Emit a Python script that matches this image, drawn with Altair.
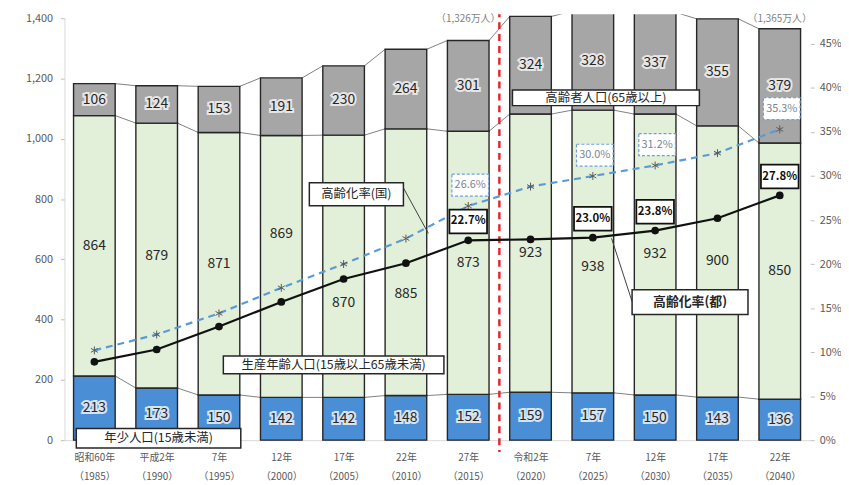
import altair as alt
import pandas as pd

FONT = "Noto Sans CJK JP"

# ---------------- data ----------------
era_labels = ["昭和60年", "平成2年", "7年", "12年", "17年", "22年", "27年",
              "令和2年", "7年", "12年", "17年", "22年"]
year_labels = ["（1985）", "（1990）", "（1995）", "（2000）", "（2005）", "（2010）",
               "（2015）", "（2020）", "（2025）", "（2030）", "（2035）", "（2040）"]
young = [213, 173, 150, 142, 142, 148, 152, 159, 157, 150, 143, 136]
working = [864, 879, 871, 869, 870, 885, 873, 923, 938, 932, 900, 850]
elderly = [106, 124, 153, 191, 230, 264, 301, 324, 328, 337, 355, 379]
tokyo_rate = [8.9, 10.3, 12.9, 15.7, 18.3, 20.1, 22.7, 22.8, 23.0, 23.8, 25.2, 27.8]
japan_rate = [10.2, 12.0, 14.4, 17.3, 20.0, 22.9, 26.6, 28.8, 30.0, 31.2, 32.6, 35.3]
tokyo_label_idx = [6, 8, 9, 11]
japan_label_idx = [6, 8, 9, 11]
total_label_idx = [6, 11]
# working-age labels moved off the lines (in 万人 units)
working_label_shift = {3: 108, 4: -122, 5: -105, 8: -53}

seg_names = ["年少人口", "生産年齢人口", "高齢者人口"]
seg_colors = ["#4a8fd6", "#e2efd9", "#a6a6a6"]

# annotation boxes (x in category index units, y in 万人)
notes = pd.DataFrame([
    {"text": "高齢者人口(65歳以上)", "x0": 6.71, "x1": 9.71, "y0": 1110, "y1": 1162, "bold": False},
    {"text": "高齢化率(国)", "x0": 3.45, "x1": 4.96, "y0": 778, "y1": 854, "bold": False},
    {"text": "生産年齢人口(15歳以上65歳未満)", "x0": 2.07, "x1": 5.61, "y0": 220, "y1": 279, "bold": False},
    {"text": "高齢化率(都)", "x0": 8.63, "x1": 10.49, "y0": 417, "y1": 499, "bold": True},
    {"text": "年少人口(15歳未満)", "x0": -0.29, "x1": 2.35, "y0": -26, "y1": 39, "bold": False},
])
notes["xc"] = (notes["x0"] + notes["x1"]) / 2
notes["yc"] = (notes["y0"] + notes["y1"]) / 2
leaders = pd.DataFrame([
    {"x0": 4.96, "y0": 837, "x1": 5.36, "y1": 686},
    {"x0": 8.30, "y0": 670, "x1": 8.63, "y1": 460},
])

# ---------------- tables ----------------
HW = 0.334
n = len(era_labels)
rows = []
for i in range(n):
    lo = 0
    for s, v in zip(seg_names, [young[i], working[i], elderly[i]]):
        mid = lo + v / 2
        if s == "生産年齢人口":
            mid += working_label_shift.get(i, 0)
        rows.append({"idx": i, "seg": s, "lo": lo, "hi": lo + v, "val": v, "mid": mid,
                     "x0": i - HW, "x1": i + HW})
        lo += v
bars_df = pd.DataFrame(rows)

levels = {
    "young": [young[i] for i in range(n)],
    "work": [young[i] + working[i] for i in range(n)],
    "total": [young[i] + working[i] + elderly[i] for i in range(n)],
}
ser = []
for k, L in levels.items():
    for i in range(n - 1):
        ser.append({"x0": i + HW, "x1": i + 1 - HW, "y0": L[i], "y1": L[i + 1]})
ser_df = pd.DataFrame(ser)

tot_df = pd.DataFrame([{"idx": i, "t": f"（{levels['total'][i]:,}万人）"} for i in total_label_idx])

rate_df = pd.DataFrame({
    "idx": list(range(n)),
    "tokyo": [v / 100 for v in tokyo_rate],
    "japan": [v / 100 for v in japan_rate],
})
tokyo_lab = pd.DataFrame([{"idx": i, "rate": tokyo_rate[i] / 100, "t": f"{tokyo_rate[i]:.1f}%"} for i in tokyo_label_idx])
japan_lab = pd.DataFrame([{"idx": i, "rate": japan_rate[i] / 100, "t": f"{japan_rate[i]:.1f}%"} for i in japan_label_idx])

# ---------------- scales / axes ----------------
W, H = 753, 426
xscale = alt.Scale(domain=[-0.48, 11.49], nice=False, zero=False)
yscale = alt.Scale(domain=[0, 1400], nice=False, zero=False)
rscale = alt.Scale(domain=[0, 0.4792], nice=False, zero=False)

label_expr = "[" + ",".join(f"['{a}','{b}']" for a, b in zip(era_labels, year_labels)) + "][datum.value]"
xaxis = alt.Axis(values=list(range(n)), labelExpr=label_expr, title=None, ticks=False, grid=False,
                 domainColor="#d9d9d9", labelColor="#595959", labelFont=FONT, labelFontSize=10,
                 labelPadding=13, labelLineHeight=19, labelFlush=False, labelOverlap=False)
yaxis = alt.Axis(values=list(range(0, 1401, 200)), format=",.0f", title=None, grid=False, orient="left",
                 domainColor="#d9d9d9", tickColor="#bfbfbf", tickSize=4, labelColor="#595959",
                 labelFont=FONT, labelFontSize=11, labelPadding=8, labelFlush=False)
raxis = alt.Axis(values=[i * 0.05 for i in range(10)], format=".0%", title=None, grid=False, orient="right",
                 domain=False, tickColor="#bfbfbf", tickSize=4, labelColor="#595959",
                 labelFont=FONT, labelFontSize=11, labelPadding=5, labelFlush=False)

X = lambda f: alt.X(f"{f}:Q", scale=xscale, axis=xaxis)
Y = lambda f: alt.Y(f"{f}:Q", scale=yscale, axis=yaxis)
R = lambda f: alt.Y(f"{f}:Q", scale=rscale, axis=raxis)

# ---------------- population layers ----------------
series = alt.Chart(ser_df).mark_rule(color="#7f7f7f", strokeWidth=1).encode(
    x=X("x0"), x2="x1", y=Y("y0"), y2="y1")

bars = alt.Chart(bars_df).mark_rect(stroke="#262626", strokeWidth=1.4).encode(
    x=X("x0"), x2="x1", y=Y("lo"), y2="hi",
    color=alt.Color("seg:N", scale=alt.Scale(domain=seg_names, range=seg_colors), legend=None))

halo_scale = alt.Scale(domain=["年少人口", "高齢者人口"], range=["#d4e4f5", "#e6e6e6"])
halo = alt.Chart(bars_df).transform_filter("datum.seg != '生産年齢人口'").mark_text(
    font=FONT, fontSize=14, strokeWidth=4, baseline="middle").encode(
    x=X("idx"), y=Y("mid"), text="val:Q",
    stroke=alt.Stroke("seg:N", scale=halo_scale, legend=None),
    fill=alt.Fill("seg:N", scale=halo_scale, legend=None))

numbers = alt.Chart(bars_df).mark_text(font=FONT, fontSize=14, color="#262626", baseline="middle").encode(
    x=X("idx"), y=Y("mid"), text="val:Q")

red = alt.Chart(pd.DataFrame({"x": [era_labels.index("令和2年") - 0.5]})).mark_rule(
    color="#e3262e", strokeWidth=2.5, strokeDash=[7, 5]).encode(
    x=X("x"), y=alt.value(-8), y2=alt.value(H + 12))

note_box = alt.Chart(notes).mark_rect(fill="white", stroke="#262626", strokeWidth=1.5).encode(
    x=X("x0"), x2="x1", y=Y("y0"), y2="y1")
note_txt = alt.Chart(notes).transform_filter("!datum.bold").mark_text(
    font=FONT, fontSize=12.5, color="#262626", baseline="middle").encode(x=X("xc"), y=Y("yc"), text="text:N")
note_txt_b = alt.Chart(notes).transform_filter("datum.bold").mark_text(
    font=FONT, fontSize=13, fontWeight="bold", color="#262626", baseline="middle").encode(
    x=X("xc"), y=Y("yc"), text="text:N")
leader = alt.Chart(leaders).mark_rule(color="#404040", strokeWidth=1).encode(
    x=X("x0"), x2="x1", y=Y("y0"), y2="y1")

pop = alt.layer(series, bars, halo, numbers, red, leader, note_box, note_txt, note_txt_b)

# ---------------- rate layers ----------------
ASTER = "M0,-1L0,1M-0.87,-0.5L0.87,0.5M-0.87,0.5L0.87,-0.5"
japan_line = alt.Chart(rate_df).mark_line(color="#5b9bd5", strokeWidth=2.2, strokeDash=[7, 5]).encode(
    x=X("idx"), y=R("japan"))
japan_pts = alt.Chart(rate_df).mark_point(shape=ASTER, size=64, stroke="#595959", strokeWidth=1,
                                          filled=False, opacity=1).encode(x=X("idx"), y=R("japan"))
tokyo_line = alt.Chart(rate_df).mark_line(color="#111111", strokeWidth=2.2).encode(x=X("idx"), y=R("tokyo"))
tokyo_pts = alt.Chart(rate_df).mark_circle(size=60, color="#111111", opacity=1).encode(x=X("idx"), y=R("tokyo"))

RECT_T = "M-1,-0.63H1V0.63H-1Z"
RECT_J = "M-1,-0.6H1V0.6H-1Z"
japan_box = alt.Chart(japan_lab).mark_point(shape=RECT_J, size=1369, fill="white", filled=True, opacity=1,
                                            stroke="#6fa0d8", strokeWidth=1.2, strokeDash=[3, 2],
                                            yOffset=-21, xOffset=2).encode(x=X("idx"), y=R("rate"))
japan_txt = alt.Chart(japan_lab).mark_text(font=FONT, fontSize=11, color="#7a8594", baseline="middle",
                                           dy=-21, dx=2).encode(x=X("idx"), y=R("rate"), text="t:N")
tokyo_box = alt.Chart(tokyo_lab).mark_point(shape=RECT_T, size=1444, fill="white", filled=True, opacity=1,
                                            stroke="#111111", strokeWidth=1.8, yOffset=-19).encode(
    x=X("idx"), y=R("rate"))
tokyo_txt = alt.Chart(tokyo_lab).mark_text(font=FONT, fontSize=11.5, fontWeight="bold", color="#111111",
                                           baseline="middle", dy=-19).encode(x=X("idx"), y=R("rate"), text="t:N")

rate = alt.layer(japan_line, japan_pts, tokyo_line, tokyo_pts, japan_box, japan_txt, tokyo_box, tokyo_txt)

# white strip: the reference image is cropped just above the plot
mask = alt.Chart(pd.DataFrame({"a": [0]})).mark_rect(color="white").encode(
    x=alt.value(-70), x2=alt.value(W + 40), y=alt.value(-10), y2=alt.value(-4))

totals = alt.Chart(tot_df).mark_text(font=FONT, fontSize=10, color="#7f7f7f", baseline="middle").encode(
    x=alt.X("idx:Q", scale=xscale, axis=xaxis), y=alt.value(1), text="t:N")

chart = alt.layer(pop, rate, mask, totals).resolve_scale(y="independent").properties(
    width=W, height=H,
    padding={"left": 57, "top": 8, "right": 31, "bottom": 50},
    autosize=alt.AutoSizeParams(type="none"),
).configure_view(stroke=None)

chart.save("out.html", embed_options={"renderer": "svg", "actions": False})
